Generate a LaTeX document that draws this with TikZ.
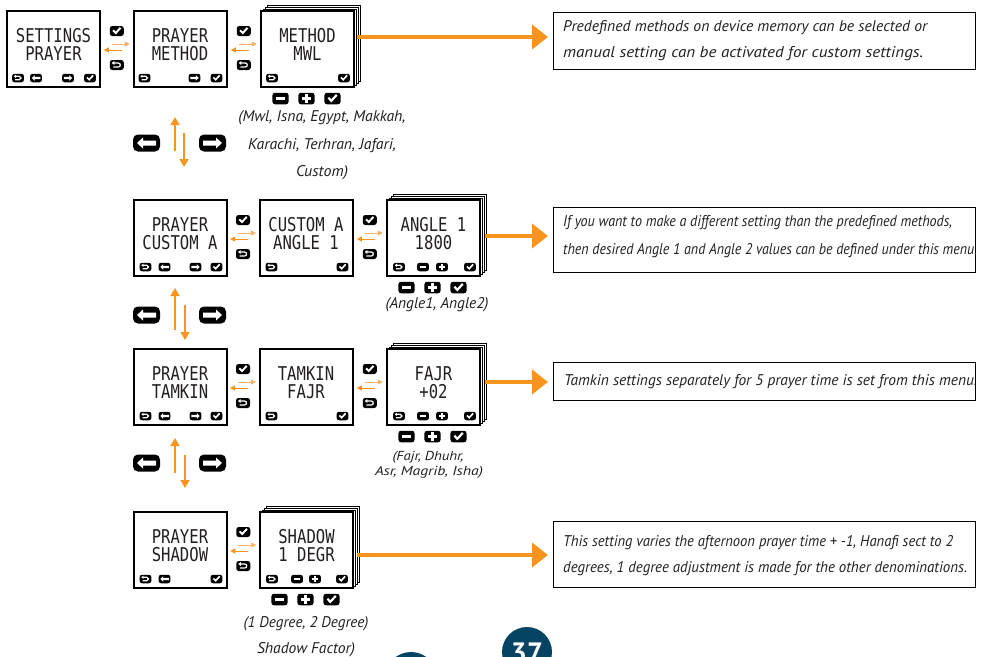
\documentclass[tikz,border=0pt]{standalone}
\usepackage{fontspec}
\usepackage{graphicx}
\setmainfont{PT Sans}
\newfontfamily\lcdfont{DejaVu Sans Mono}
\usetikzlibrary{arrows.meta,calc}
\definecolor{orng}{RGB}{247,148,29}
\definecolor{lorng}{RGB}{249,178,100}
\definecolor{tealc}{RGB}{6,68,100}
\definecolor{ink}{RGB}{35,31,32}
\newcommand\fitw[2]{\resizebox{#1}{\height}{#2}}
\newcommand\lcdl[1]{\scalebox{0.82}[1]{#1}}
\tikzset{
 screenbox/.style={draw=black,line width=2pt,fill=white,minimum width=93pt,minimum height=76pt,inner sep=0pt,outer sep=0pt},
 layerbox/.style={draw=black,line width=0.9pt,fill=white,minimum width=93pt,minimum height=76pt,inner sep=0pt,outer sep=0pt},
 lcd/.style={font=\lcdfont\fontsize{19}{19}\selectfont,inner sep=0pt,text=ink},
 tbox/.style={draw=black,line width=1pt,minimum width=422pt,inner sep=0pt,outer sep=0pt},
 desc/.style={font=\itshape\fontsize{15.5}{16}\selectfont,inner sep=0pt,anchor=base west,text=ink},
 capt/.style={font=\itshape\fontsize{15.5}{16}\selectfont,inner sep=0pt,anchor=base,text=ink},
 captsm/.style={capt,font=\itshape\fontsize{13}{13}\selectfont},
 bigarr/.style={draw=orng,line width=4pt,-{Triangle[width=24pt,length=16pt]},shorten >=5pt},
 smallarr/.style={draw=orng,line width=1pt,-{Triangle[width=5pt,length=5pt]}},
 vertarr/.style={draw=orng,line width=1.6pt,-{Triangle[width=9pt,length=8pt]}},
 pics/chk/.style={code={
   \fill[black,rounded corners=2.5pt] (-7,-5) rectangle (7,5);
   \fill[white] (-4.3,0) -- (-1,3.4) -- (4.4,-2.4) -- (3,-3.8) -- (-1,0.6) -- (-2.9,-1.4) -- cycle;}},
 pics/ret/.style={code={
   \fill[black,rounded corners=2.5pt] (-7,-5) rectangle (7,5);
   \draw[white,line width=1.2pt] (-3,-2) -- (1.5,-2) .. controls (4.2,-2) and (4.2,2) .. (1.5,2) -- (-3.5,2);
   \fill[white] (-5,-2) -- (-2.5,-3.9) -- (-2.5,-0.1) -- cycle;}},
 pics/larr/.style={code={
   \fill[black,rounded corners=2.5pt] (-7,-5) rectangle (7,5);
   \fill[white] (-5,0) -- (-1.5,-3.3) -- (-1.5,-1.4) -- (5,-1.4) -- (5,1.4) -- (-1.5,1.4) -- (-1.5,3.3) -- cycle;}},
 pics/rarr/.style={code={
   \fill[black,rounded corners=2.5pt] (-7,-5) rectangle (7,5);
   \fill[white] (5,0) -- (1.5,-3.3) -- (1.5,-1.4) -- (-5,-1.4) -- (-5,1.4) -- (1.5,1.4) -- (1.5,3.3) -- cycle;}},
 pics/minus/.style={code={
   \fill[black,rounded corners=2.5pt] (-7,-5) rectangle (7,5);
   \fill[white] (-4,-1.3) rectangle (4,1.3);}},
 pics/plus/.style={code={
   \fill[black,rounded corners=2.5pt] (-7,-5) rectangle (7,5);
   \fill[white] (-4,-1.3) rectangle (4,1.3);
   \fill[white] (-1.3,-3.8) rectangle (1.3,3.8);}},
 pics/biglarr/.style={code={
   \fill[black,rounded corners=5pt] (-13.5,-8.5) rectangle (13.5,8.5);
   \fill[white] (-9.5,0) -- (-3.5,-5.5) -- (-3.5,-2.5) -- (9.5,-2.5) -- (9.5,2.5) -- (-3.5,2.5) -- (-3.5,5.5) -- cycle;}},
 pics/bigrarr/.style={code={
   \fill[black,rounded corners=5pt] (-13.5,-8.5) rectangle (13.5,8.5);
   \fill[white] (9.5,0) -- (3.5,-5.5) -- (3.5,-2.5) -- (-9.5,-2.5) -- (-9.5,2.5) -- (3.5,2.5) -- (3.5,5.5) -- cycle;}},
}
\newcommand\stackback[3]{%
  \node[layerbox] (#1-s3) at (#2+6,#3-6) {};
  \node[layerbox] (#1-s2) at (#2+4,#3-4) {};
  \node[layerbox] (#1-s1) at (#2+2,#3-2) {};}
\newcommand\lcdscreen[5]{%
  \node[screenbox] (#1) at (#2,#3) {};
  \node[lcd] (#1-t1) at (#2,#3-13.5) {\lcdl{#4}};
  \node[lcd] (#1-t2) at (#2,#3+4.5) {\lcdl{#5}};}
\newcommand\inico[3]{\pic[scale=0.85] at ($(#1.south west)+(#3,-9)$) {#2};}
\newcommand\gapset[2]{%
  \coordinate (#1#2m) at ($(#1.east)!0.5!(#2.west)$);
  \pic at ($(#1#2m)+(0,-18)$) {chk};
  \pic at ($(#1#2m)+(0,16)$) {ret};
  \draw[smallarr,draw=lorng] ($(#1#2m)+(-5,-5)$) -- ($(#1#2m)+(13,-5)$);
  \draw[smallarr] ($(#1#2m)+(5,1)$) -- ($(#1#2m)+(-13,1)$);}
\newcommand\belowico[1]{%
  \pic[scale=1.15] at ($(#1.south)+(-27,11.5)$) {minus};
  \pic[scale=1.15] at ($(#1.south)+(-1,11.5)$) {plus};
  \pic[scale=1.15] at ($(#1.south)+(25,11.5)$) {chk};}
\newcommand\navset[4]{%
  \pic at (146.5,#2) {biglarr};
  \pic at (212.5,#2) {bigrarr};
  \coordinate (#1-u0) at (175,#3);
  \coordinate (#1-u1) at (175,#4);
  \draw[vertarr] (#1-u0) -- (#1-u1);}
\begin{document}
\begin{tikzpicture}[x=1pt,y=-1pt]
\useasboundingbox (0,0) rectangle (985,656);
% ---------- row 1
\lcdscreen{A}{53.5}{49}{SETTINGS}{PRAYER}
\inico{A}{ret}{11}\inico{A}{larr}{29}\inico{A}{rarr}{61}\inico{A}{chk}{83}
\lcdscreen{B}{180}{49}{PRAYER}{METHOD}
\inico{B}{ret}{11}\inico{B}{rarr}{61}\inico{B}{chk}{83}
\stackback{C}{307.5}{49}
\lcdscreen{C}{307.5}{49}{METHOD}{MWL}
\inico{C}{ret}{11}\inico{C}{chk}{83}
\gapset{A}{B}\gapset{B}{C}
\belowico{C}
\node[capt] (c1a) at (322,121) {\fitw{167pt}{(Mwl, Isna, Egypt, Makkah,}};
\node[capt] (c1b) at (322,149) {\fitw{148pt}{Karachi, Terhran, Jafari,}};
\node[capt] (c1c) at (322,176) {\fitw{52pt}{Custom)}};
% ---------- row 2
\lcdscreen{D}{180}{238}{PRAYER}{CUSTOM A}
\inico{D}{ret}{12}\inico{D}{larr}{31}\inico{D}{rarr}{62}\inico{D}{chk}{83}
\lcdscreen{E}{306}{238}{CUSTOM A}{ANGLE 1}
\inico{E}{ret}{12}\inico{E}{chk}{83}
\stackback{F}{433.5}{238}
\lcdscreen{F}{433.5}{238}{ANGLE 1}{1800}
\inico{F}{ret}{12}\inico{F}{minus}{36}\inico{F}{plus}{55}\inico{F}{chk}{83}
\gapset{D}{E}\gapset{E}{F}
\belowico{F}
\node[capt] (c2a) at (437,308) {\fitw{103pt}{(Angle1, Angle2)}};
% ---------- row 3
\lcdscreen{G}{180}{387}{PRAYER}{TAMKIN}
\inico{G}{ret}{12}\inico{G}{larr}{31}\inico{G}{rarr}{62}\inico{G}{chk}{83}
\lcdscreen{H}{306}{387}{TAMKIN}{FAJR}
\inico{H}{ret}{12}\inico{H}{chk}{83}
\stackback{I}{433.5}{387}
\lcdscreen{I}{433.5}{387}{FAJR}{+02}
\inico{I}{ret}{12}\inico{I}{minus}{36}\inico{I}{plus}{55}\inico{I}{chk}{83}
\gapset{G}{H}\gapset{H}{I}
\belowico{I}
\node[captsm] (c3a) at (428,460) {\fitw{71pt}{(Fajr, Dhuhr,}};
\node[captsm] (c3b) at (429,475) {\fitw{108pt}{Asr, Magrib, Isha)}};
% ---------- row 4
\lcdscreen{J}{180}{550}{PRAYER}{SHADOW}
\inico{J}{ret}{12}\inico{J}{larr}{31}\inico{J}{chk}{83}
\stackback{K}{306.5}{550}
\lcdscreen{K}{306.5}{550}{SHADOW}{1 DEGR}
\inico{K}{ret}{12}\inico{K}{minus}{37}\inico{K}{plus}{55}\inico{K}{chk}{82}
\gapset{J}{K}
\belowico{K}
\node[capt] (c4a) at (306,627) {\fitw{125pt}{(1 Degree, 2 Degree)}};
\node[capt] (c4b) at (306,653) {\fitw{98pt}{Shadow Factor)}};
% ---------- navigation arrows
\navset{n1}{143}{151}{117}
\coordinate (n1-d0) at (184,133); \coordinate (n1-d1) at (184,167);
\draw[vertarr] (n1-d0) -- (n1-d1);
\navset{n2}{315}{330}{288}
\coordinate (n2-d0) at (185,305); \coordinate (n2-d1) at (185,340);
\draw[vertarr] (n2-d0) -- (n2-d1);
\navset{n3}{463}{473}{438}
\coordinate (n3-d0) at (185,455); \coordinate (n3-d1) at (185,488);
\draw[vertarr] (n3-d0) -- (n3-d1);
% ---------- text boxes
\node[tbox,minimum height=57pt] (T1) at (764,40.5) {};
\node[tbox,minimum height=65pt] (T2) at (764,239.5) {};
\node[tbox,minimum height=38pt] (T3) at (764,381) {};
\node[tbox,minimum height=66pt] (T4) at (764,554) {};
\begin{scope}
\clip (553,0) rectangle (975,656);
\node[desc] (T1a) at (563,31) {\fitw{364pt}{Predefined methods on device memory can be selected or}};
\node[desc] (T1b) at (563,57) {\fitw{360pt}{manual setting can be activated for custom settings.}};
\node[desc] (T2a) at (563,226) {\fitw{389pt}{If you want to make a different setting than the predefined methods,}};
\node[desc] (T2b) at (563,254) {\fitw{414pt}{then desired Angle 1 and Angle 2 values can be defined under this menu.}};
\node[desc] (T3a) at (564,385) {\fitw{413pt}{Tamkin settings separately for 5 prayer time is set from this menu.}};
\node[desc] (T4a) at (563,546) {\fitw{390pt}{This setting varies the afternoon prayer time + -1, Hanafi sect to 2}};
\node[desc] (T4b) at (563,572.5) {\fitw{404pt}{degrees, 1 degree adjustment is made for the other denominations.}};
\end{scope}
% ---------- big arrows
\coordinate (C-o) at (357,37);
\draw[bigarr] (C-o) -- (C-o -| T1.west);
\coordinate (F-o) at (485,236);
\draw[bigarr] (F-o) -- (F-o -| T2.west);
\coordinate (I-o) at (485,382);
\draw[bigarr] (I-o) -- (I-o -| T3.west);
\coordinate (K-o) at (357,555);
\draw[bigarr] (K-o) -- (K-o -| T4.west);
% ---------- page circles
\node[circle,fill=tealc,minimum size=52pt,inner sep=0pt] (pg1) at (411,678) {};
\node[circle,fill=tealc,minimum size=50pt,inner sep=0pt] (pg2) at (527,652) {};
\node[anchor=base,text=white,font=\bfseries\fontsize{28}{28}\selectfont,inner sep=0pt] (pg2t) at (527,662) {37};
\end{tikzpicture}
\end{document}
